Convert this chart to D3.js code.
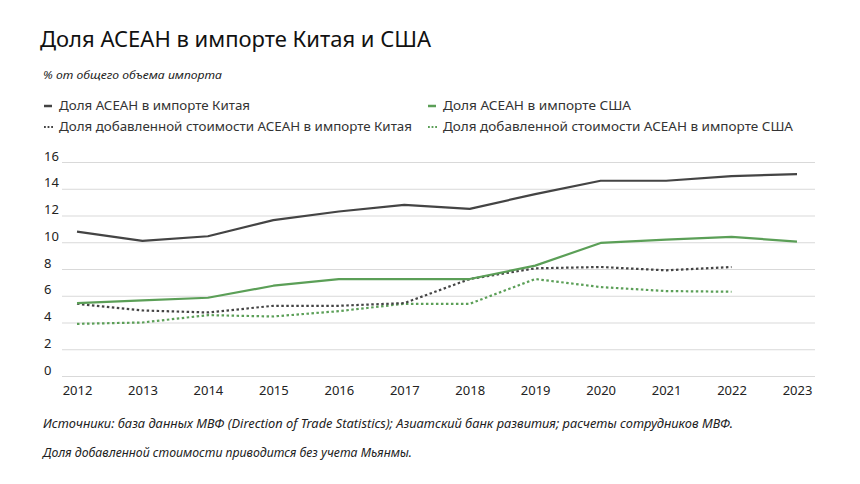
<!DOCTYPE html>
<html><head><meta charset="utf-8">
<script src="https://cdn.jsdelivr.net/npm/d3@7"></script>
<style>body{margin:0;background:#fff;}text{font-family:"Noto Sans",sans-serif;}</style>
</head><body><svg id="c" width="860" height="484"></svg>
<script>
const years = [2012,2013,2014,2015,2016,2017,2018,2019,2020,2021,2022,2023];
const chinaShare = [10.8,10.1,10.45,11.65,12.3,12.8,12.5,13.6,14.6,14.6,14.95,15.1];
const usShare = [5.45,5.65,5.85,6.75,7.25,7.25,7.25,8.25,9.95,10.2,10.4,10.05];
const chinaVA = [5.4,4.9,4.75,5.25,5.25,5.45,7.25,8.05,8.15,7.9,8.15];
const usVA = [3.9,4.0,4.55,4.45,4.85,5.4,5.4,7.25,6.65,6.35,6.3];
const yTicks = [0,2,4,6,8,10,12,14,16];
const seriesNames = ["Доля АСЕАН в импорте Китая","Доля АСЕАН в импорте США","Доля добавленной стоимости АСЕАН в импорте Китая","Доля добавленной стоимости АСЕАН в импорте США"];

const svg = d3.select("#c");
const dark = "#444444", green = "#5b9f57";
svg.append("text").attr("x",40).attr("y",47).attr("font-size",22).attr("fill","#111").text("Доля АСЕАН в импорте Китая и США");
svg.append("text").attr("x",43).attr("y",79).attr("font-size",11.5).attr("font-style","italic").attr("fill","#222")
  .attr("textLength",179).attr("lengthAdjust","spacingAndGlyphs").text("% от общего объема импорта");

const x = d3.scalePoint().domain(years).range([77,797]);
const y = d3.scaleLinear().domain([0,16]).range([376,162]);

const yAxis = d3.axisLeft(y).tickValues(yTicks).tickSize(-(815-62)).tickPadding(6);
const gy = svg.append("g").attr("transform","translate(62,0)").call(yAxis);
gy.select(".domain").remove();
gy.selectAll(".tick line").attr("stroke","#d9d9d9").attr("stroke-width",1);
gy.selectAll(".tick text").attr("font-size",13).attr("fill","#222").attr("text-anchor","start").attr("x",-18).attr("dy","-0.15em");

const xAxis = d3.axisBottom(x).tickSize(0).tickPadding(0);
const gx = svg.append("g").attr("transform","translate(0,386)").call(xAxis);
gx.select(".domain").remove();
gx.selectAll(".tick text").attr("font-size",13).attr("fill","#222");

const line = d3.line().x((d,i)=>x(years[i])).y(d=>y(d));
const series = [
  {v:chinaShare,c:dark,dash:null},
  {v:usShare,c:green,dash:null},
  {v:chinaVA,c:dark,dash:"2.5,2.5"},
  {v:usVA,c:green,dash:"2.5,2.5"}
];
[series[3],series[2],series[1],series[0]].forEach(s=>{
  svg.append("path").datum(s.v).attr("d",line).attr("fill","none").attr("stroke",s.c)
    .attr("stroke-width",2.2).attr("stroke-dasharray",s.dash).attr("stroke-linejoin","round");
});

const leg = [
  {x:44,y:110,i:0,c:dark,dash:false,w:191},
  {x:428,y:110,i:1,c:green,dash:false,w:188},
  {x:44,y:131,i:2,c:dark,dash:true,w:353},
  {x:428,y:131,i:3,c:green,dash:true,w:350}
];
leg.forEach(l=>{
  if(l.dash){
    svg.append("line").attr("x1",l.x).attr("x2",l.x+9).attr("y1",l.y-4).attr("y2",l.y-4).attr("stroke",l.c).attr("stroke-width",2).attr("stroke-dasharray","1.8,1.8");
  } else {
    svg.append("line").attr("x1",l.x).attr("x2",l.x+8).attr("y1",l.y-4).attr("y2",l.y-4).attr("stroke",l.c).attr("stroke-width",2.5);
  }
  svg.append("text").attr("x",l.x+15).attr("y",l.y).attr("font-size",13).attr("fill","#333")
    .attr("textLength",l.w).attr("lengthAdjust","spacingAndGlyphs").text(seriesNames[l.i]);
});

svg.append("text").attr("x",43).attr("y",428).attr("font-size",12).attr("font-style","italic").attr("fill","#222")
  .attr("textLength",690).attr("lengthAdjust","spacingAndGlyphs")
  .text("Источники: база данных МВФ (Direction of Trade Statistics); Азиатский банк развития; расчеты сотрудников МВФ.");
svg.append("text").attr("x",43).attr("y",457).attr("font-size",12).attr("font-style","italic").attr("fill","#222")
  .attr("textLength",369).attr("lengthAdjust","spacingAndGlyphs")
  .text("Доля добавленной стоимости приводится без учета Мьянмы.");
</script></body></html>
